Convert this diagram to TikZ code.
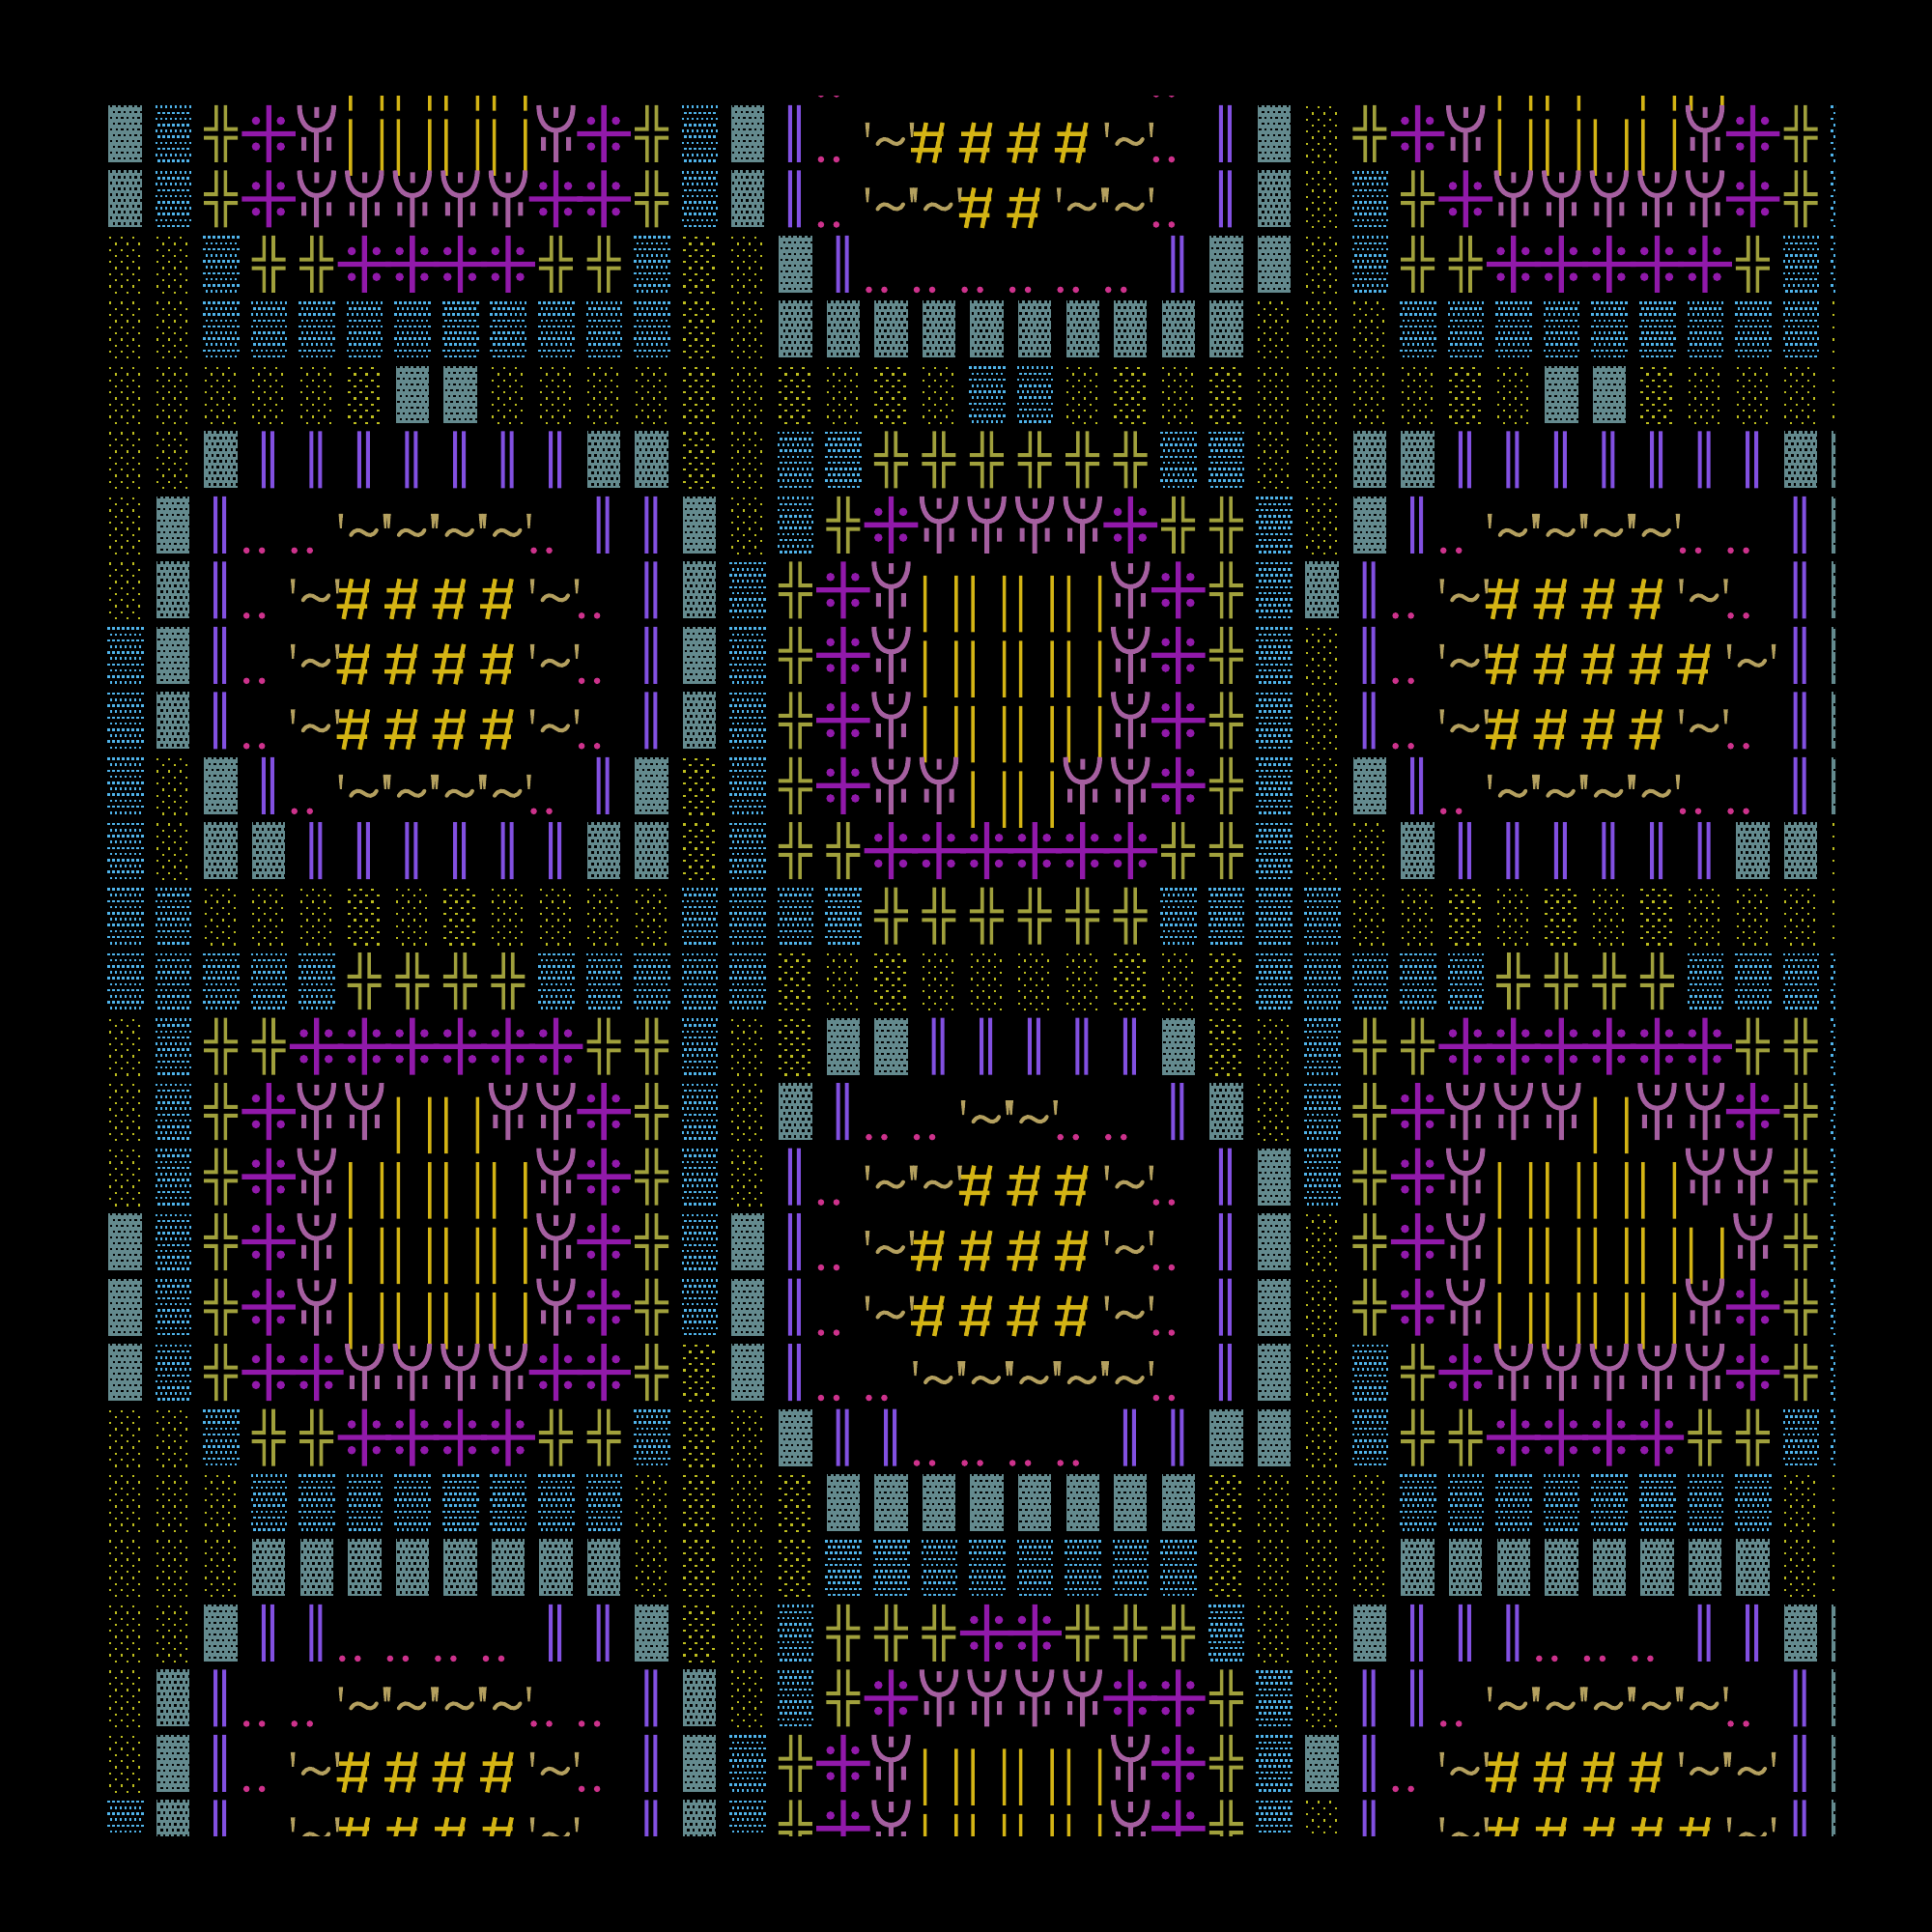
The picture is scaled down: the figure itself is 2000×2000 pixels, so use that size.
\documentclass[tikz,border=0pt]{standalone}
\usepackage{tikz}

\definecolor{shadegray}{RGB}{100,138,142}
\definecolor{mediumblue}{RGB}{80,180,235}
\definecolor{lightyellow}{RGB}{190,190,30}
\definecolor{boxolive}{RGB}{160,160,60}
\definecolor{crosspurple}{RGB}{145,25,170}
\definecolor{psimauve}{RGB}{165,95,160}
\definecolor{barsgold}{RGB}{212,180,20}
\definecolor{doubleviolet}{RGB}{130,80,225}
\definecolor{dotpink}{RGB}{205,50,140}
\definecolor{tiltan}{RGB}{180,160,95}

% rows of dots of the three shade glyphs, built once (each row is one dashed line)
\def\holespath{}
\foreach \j in {0,...,9}{%
	\pgfmathsetmacro\xa{-15.7+2.85*mod(\j,2)}\pgfmathsetmacro\xb{\xa+30.9}\pgfmathsetmacro\yy{-28.3+6*\j}%
	\xdef\holespath{\holespath (\xa,\yy) -- (\xb,\yy)}}
\def\bluedotspath{}
\foreach \j in {0,...,9}{%
	\pgfmathsetmacro\xa{-18.5+2.5*mod(\j,2)}\pgfmathsetmacro\xb{19.1-2.5*mod(\j,2)}\pgfmathsetmacro\yy{-27.7+6.2*\j}%
	\xdef\bluedotspath{\bluedotspath (\xa,\yy) -- (\xb,\yy)}}
\def\sparsedotspath{}
\foreach \j in {0,...,9}{%
	\pgfmathsetmacro\xa{-17+6*mod(\j,2)}\pgfmathsetmacro\xb{\xa+26.3}\pgfmathsetmacro\yy{-27.35+6.3*\j}%
	\xdef\sparsedotspath{\sparsedotspath (\xa,\yy) -- (\xb,\yy)}}

% one macro per glyph, drawn round the cell centre (units are pixels, y down)
\edef\glyphG{\noexpand\fill[shadegray] (-17.2,-29.5) rectangle (17.2,29.5);
	\noexpand\draw[black, line width=0.683pt, dash pattern=on 0.683pt off 0.939pt] \holespath;}
\edef\glyphB{\noexpand\draw[mediumblue, line width=0.74pt, dash pattern=on 0.74pt off 0.683pt] \bluedotspath;}
\edef\glyphY{\noexpand\draw[lightyellow, line width=0.654pt, dash pattern=on 0.654pt off 2.76pt] \sparsedotspath;}
\def\glyphO{\fill[boxolive] (-6.6,-29.5) rectangle (-3,-2.8) (-17.6,-6.8) rectangle (-3,-2.8)
	(3,-29.5) rectangle (6.6,-2.8) (3,-6.8) rectangle (17.4,-2.8)
	(-17.6,2.2) rectangle (-3,6.2) (-6.6,2.2) rectangle (-3,29.5)
	(3,2.2) rectangle (17.4,6.2) (3,2.2) rectangle (6.6,29.5);}
\def\glyphP{\fill[crosspurple] (-2.65,-29.5) rectangle (2.65,29.5) (-27.8,-2.65) rectangle (27.8,2.65)
	(-13.2,-13.5) circle[radius=0.43mm] (12.5,-13.5) circle[radius=0.43mm]
	(-13.2,13.2) circle[radius=0.43mm] (12.5,13.2) circle[radius=0.43mm];}
\def\glyphS{\draw[psimauve, line width=0.5mm] (-17.7,-29.5) .. controls (-17.7,-12) and (-10,-3.5) .. (0,-3.5)
	.. controls (10,-3.5) and (17.7,-12) .. (17.7,-29.5) (0,-3.5) -- (0,29.5);
	\fill[psimauve] (-2.3,-27.7) rectangle (2.7,-16.7) (-15.5,3.3) rectangle (-10.5,17.3) (10.5,3.3) rectangle (15.5,17.3);}
\def\glyphI{\fill[barsgold] (-16.2,-15) rectangle (-12.7,43.5) (16.2,-15) rectangle (19.7,43.5);}
\def\glyphV{\fill[doubleviolet] (-7.4,-29.5) rectangle (-3.4,29.5) (1.6,-29.5) rectangle (5.6,29.5);}
\def\glyphD{\fill[dotpink] (-23,26.5) circle[radius=0.33mm] (-7,26.5) circle[radius=0.33mm];}
\def\glyphT{\fill[tiltan] (-26.8,-11.5) -- (-22.2,-11.5) -- (-23.5,3.5) -- (-25.5,3.5) -- cycle
	(19.2,-11.5) -- (23.8,-11.5) -- (22.5,3.5) -- (20.5,3.5) -- cycle;
	\draw[tiltan, line width=0.4mm, line cap=round] (-14,10.5) .. controls (-10,4) and (-5,4.5) .. (-0.5,8)
	.. controls (4,11.5) and (9,12) .. (12.5,5.5);}
\def\glyphH{\draw[barsgold, line width=0.45mm] (-13.3,-11.5) -- (-21.6,30) (3.7,-11.5) -- (-4.9,30)
	(-26.4,0.2) -- (4.6,0.2) (-28.8,16.8) -- (2.9,16.8);}
\expandafter\def\csname glyph.\endcsname{}

% a row of cells, one letter per cell
\newcount\colnum
\def\cellrow#1#2{\colnum=0 \def\rownum{#1}\parsecells#2\relax}
\def\parsecells#1{%
	\ifx#1\relax\else
		\begin{scope}[shift={({129.5+49.56*\the\colnum},{71.025+67.475*\rownum})}]
			\csname glyph#1\endcsname
		\end{scope}%
		\advance\colnum by 1
		\expandafter\parsecells
	\fi}

\begin{document}
\begin{tikzpicture}[x=0.01cm, y=-0.01cm]
			%%%%% START %%%%%
			
			\fill[black] (0,0) rectangle (2000,2000);
			
			\begin{scope}
			\clip (100,100) rectangle (1900,1900);
			\cellrow{0}{.....IIII......D......D......II.II...}
			\cellrow{1}{GBOPSIIIISPOBGVDTHHHHTDVGYOPSIIIISPOB}
			\cellrow{2}{GBOPSSSSSPPOBGVDTTHHTTDVGYBOPSSSSSPOB}
			\cellrow{3}{YYBOOPPPPOOBYYGVDDDDDDVGGYBOOPPPPPOBB}
			\cellrow{4}{YYBBBBBBBBBBYYGGGGGGGGGGYYYBBBBBBBBBY}
			\cellrow{5}{YYYYYYGGYYYYYYYYYYBBYYYYYYYYYYGGYYYYY}
			\cellrow{6}{YYGVVVVVVVGGYYBBOOOOOOBBYYGGVVVVVVVGG}
			\cellrow{7}{YGVDDTTTTDVVGYBOPSSSSPOOBYGVDTTTTDDVG}
			\cellrow{8}{YGVDTHHHHTDVGBOPSIIIISPOBGVDTHHHHTDVG}
			\cellrow{9}{BGVDTHHHHTDVGBOPSIIIISPOBYVDTHHHHHTVG}
			\cellrow{10}{BGVDTHHHHTDVGBOPSIIIISPOBYVDTHHHHTDVG}
			\cellrow{11}{BYGVDTTTTDVGYBOPSSIISSPOBYGVDTTTTDDVG}
			\cellrow{12}{BYGGVVVVVVGGYBOOPPPPPPOOBYYGVVVVVVGGY}
			\cellrow{13}{BBYYYYYYYYYYBBBBOOOOOOBBBBYYYYYYYYYYY}
			\cellrow{14}{BBBBBOOOOBBBBBYYYYYYYYYYBBBBBOOOOBBBB}
			\cellrow{15}{YBOOPPPPPPOOBYYGGVVVVVGYYBOOPPPPPPOOB}
			\cellrow{16}{YBOPSSIISSPOBYGVDDTTDDVGYBOPSSSISSPOB}
			\cellrow{17}{YBOPSIIIISPOBYVDTTHHHTDVGBOPSIIIISSOB}
			\cellrow{18}{GBOPSIIIISPOBGVDTHHHHTDVGYOPSIIIIISOB}
			\cellrow{19}{GBOPSIIIISPOBGVDTHHHHTDVGYOPSIIIISPOB}
			\cellrow{20}{GBOPPSSSSPPOYGVDDTTTTTDVGYBOPSSSSSPOB}
			\cellrow{21}{YYBOOPPPPOOBYYGVVDDDDVVGGYBOOPPPPOOBB}
			\cellrow{22}{YYYBBBBBBBBYYYYGGGGGGGGYYYYBBBBBBBBYY}
			\cellrow{23}{YYYGGGGGGGGYYYYBBBBBBBBYYYYGGGGGGGGYY}
			\cellrow{24}{YYGVVDDDDVVGYYBOOOPPOOOBYYGVVVDDDVVGG}
			\cellrow{25}{YGVDDTTTTDDVGYBOPSSSSPPOBYVVDTTTTTDVG}
			\cellrow{26}{YGVDTHHHHTDVGBOPSIIIISPOBGVDTHHHHTTVG}
			\cellrow{27}{BGVDTHHHHTDVGBOPSIIIISPOBYVDTHHHHHTVG}
			\end{scope}
			
			%%%%% END %%%%%
\end{tikzpicture}
\end{document}
